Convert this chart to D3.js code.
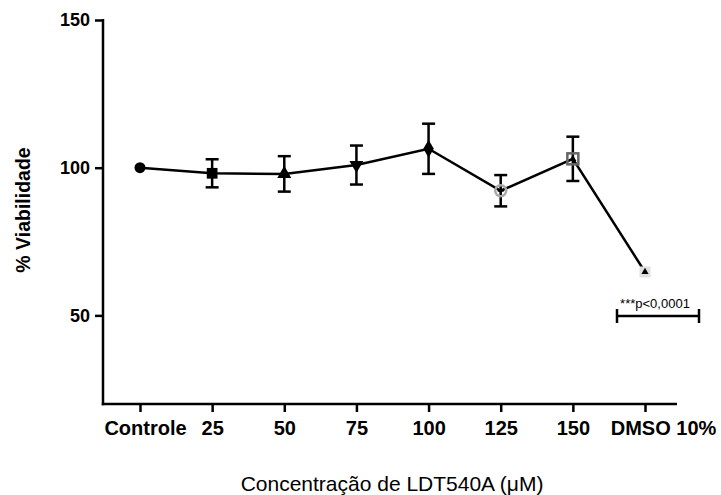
<!DOCTYPE html>
<html>
<head>
<meta charset="utf-8">
<script src="https://cdn.jsdelivr.net/npm/d3@7"></script>
<style>
  html, body { margin: 0; padding: 0; background: #fff; }
  svg { display: block; font-family: "Liberation Sans", Arial, sans-serif; }
</style>
</head>
<body>
<svg id="chart" width="721" height="495"></svg>
<script>
const categories = ["Controle", "25", "50", "75", "100", "125", "150", "DMSO 10%"];
const means = [100, 98.1, 97.9, 100.9, 106.4, 92.2, 103.0, 64.7];
const errors = [0, 4.75, 6.0, 6.6, 8.5, 5.3, 7.5, 0];
const yTicks = [50, 100, 150];
const annotation = "***p<0,0001";
const yTitle = "% Viabilidade";
const xTitle = "Concentração de LDT540A (μM)";

const svg = d3.select("#chart");
const data = categories.map((c, i) => ({ cat: c, mean: means[i], err: errors[i], i }));

const y = d3.scaleLinear().domain([20, 150]).range([404, 20]);
const x = d3.scalePoint().domain(categories).range([140, 645]);
const axisLeftX = 103, axisRight = 677, axisY = 404;

// Y axis
const yAxis = svg.append("g").attr("transform", `translate(${axisLeftX},0)`)
  .call(d3.axisLeft(y).tickValues(yTicks).tickSize(8).tickPadding(5));
yAxis.select(".domain").remove();
yAxis.selectAll(".tick line").attr("stroke", "#000").attr("stroke-width", 2.5);
yAxis.selectAll(".tick text").attr("font-size", 18).attr("font-weight", "bold")
  .attr("font-family", "Liberation Sans, Arial, sans-serif").attr("fill", "#000");
svg.append("line").attr("x1", axisLeftX).attr("x2", axisLeftX)
  .attr("y1", y(150) - 1).attr("y2", axisY + 1.25)
  .attr("stroke", "#000").attr("stroke-width", 2.5);

// X axis
const labelShift = { "Controle": 5, "DMSO 10%": 18 };
const xAxis = svg.append("g").attr("transform", `translate(0,${axisY})`)
  .call(d3.axisBottom(x).tickSize(8).tickPadding(9));
xAxis.select(".domain").remove();
xAxis.selectAll(".tick line").attr("stroke", "#000").attr("stroke-width", 2.5);
xAxis.selectAll(".tick text").attr("font-size", 20).attr("font-weight", "bold")
  .attr("font-family", "Liberation Sans, Arial, sans-serif").attr("fill", "#000")
  .attr("dx", d => labelShift[d] || 0);
svg.append("line").attr("x1", axisLeftX - 1.25).attr("x2", axisRight)
  .attr("y1", axisY).attr("y2", axisY)
  .attr("stroke", "#000").attr("stroke-width", 2.5);

// Titles
svg.append("text").attr("transform", `translate(30,210) rotate(-90)`)
  .attr("text-anchor", "middle").attr("font-size", 19.5).attr("font-weight", "bold")
  .text(yTitle);
svg.append("text").attr("x", 392).attr("y", 491)
  .attr("text-anchor", "middle").attr("font-size", 21)
  .text(xTitle);

// Line
svg.append("path").datum(data)
  .attr("fill", "none").attr("stroke", "#000").attr("stroke-width", 2.5)
  .attr("d", d3.line().x(d => x(d.cat)).y(d => y(d.mean)));

// Error bars
const eb = svg.append("g").selectAll("g").data(data.filter(d => d.err > 0)).join("g");
eb.append("line").attr("x1", d => x(d.cat)).attr("x2", d => x(d.cat))
  .attr("y1", d => y(d.mean + d.err)).attr("y2", d => y(d.mean - d.err))
  .attr("stroke", "#000").attr("stroke-width", 2.5);
eb.append("line").attr("x1", d => x(d.cat) - 6.5).attr("x2", d => x(d.cat) + 6.5)
  .attr("y1", d => y(d.mean + d.err)).attr("y2", d => y(d.mean + d.err))
  .attr("stroke", "#000").attr("stroke-width", 2.5);
eb.append("line").attr("x1", d => x(d.cat) - 6.5).attr("x2", d => x(d.cat) + 6.5)
  .attr("y1", d => y(d.mean - d.err)).attr("y2", d => y(d.mean - d.err))
  .attr("stroke", "#000").attr("stroke-width", 2.5);

// Markers
const sym = (type, size) => d3.symbol().type(type).size(size)();
const tri = d3.symbol().type(d3.symbolTriangle).size(22)();
data.forEach(d => {
  const g = svg.append("g").attr("transform", `translate(${x(d.cat)},${y(d.mean)})`);
  switch (d.i) {
    case 0: g.append("circle").attr("r", 5.5).attr("fill", "#000"); break;
    case 1: g.append("path").attr("d", sym(d3.symbolSquare, 115)).attr("fill", "#000"); break;
    case 2: g.append("path").attr("d", sym(d3.symbolTriangle, 85)).attr("fill", "#000"); break;
    case 3: g.append("path").attr("d", sym(d3.symbolTriangle, 85)).attr("transform", "rotate(180)").attr("fill", "#000"); break;
    case 4: g.append("path").attr("d", sym(d3.symbolDiamond, 95)).attr("fill", "#000"); break;
    case 5:
      g.append("circle").attr("r", 5.5).attr("fill", "none").attr("stroke", "#a8a8a8").attr("stroke-width", 2.5);
      g.append("path").attr("d", sym(d3.symbolCross, 20)).attr("fill", "#000");
      break;
    case 6:
      g.append("rect").attr("x", -5.5).attr("y", -5.5).attr("width", 11).attr("height", 11)
        .attr("fill", "none").attr("stroke", "#666").attr("stroke-width", 2.5);
      g.append("path").attr("d", tri).attr("fill", "#000");
      break;
    case 7:
      g.append("rect").attr("x", -5.5).attr("y", -5.5).attr("width", 11).attr("height", 11)
        .attr("fill", "#e0e0e0");
      g.append("path").attr("d", tri).attr("fill", "#000");
      break;
  }
});

// Significance annotation
const bx = x("DMSO 10%");
const by = y(49.8);
const ann = svg.append("g");
ann.append("line").attr("x1", bx - 28).attr("x2", bx + 54).attr("y1", by).attr("y2", by)
  .attr("stroke", "#000").attr("stroke-width", 2.5);
ann.append("line").attr("x1", bx - 28).attr("x2", bx - 28).attr("y1", by - 7).attr("y2", by + 7)
  .attr("stroke", "#000").attr("stroke-width", 2.5);
ann.append("line").attr("x1", bx + 54).attr("x2", bx + 54).attr("y1", by - 7).attr("y2", by + 7)
  .attr("stroke", "#000").attr("stroke-width", 2.5);
ann.append("text").attr("x", bx + 10).attr("y", by - 8).attr("text-anchor", "middle")
  .attr("font-size", 13).text(annotation);
</script>
</body>
</html>
